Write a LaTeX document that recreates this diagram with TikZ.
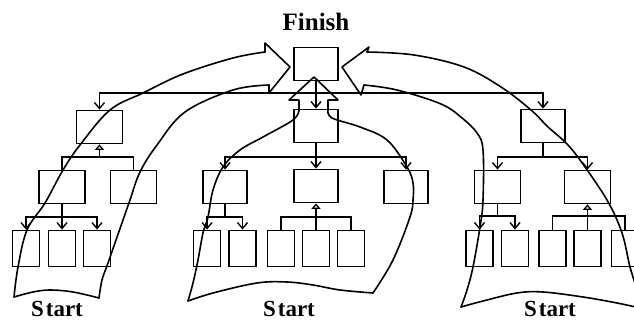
\documentclass[tikz,border=0pt]{standalone}
\usepackage{fontspec}
\setmainfont{Liberation Serif}
\usetikzlibrary{arrows.meta,positioning}
\definecolor{Ink}{HTML}{000000}
\tikzset{
  box/.style={draw=Ink,line width=1.8pt,minimum width=44pt,minimum height=33pt,inner sep=0pt},
  leaf/.style={box,minimum width=27pt,minimum height=36pt},
  link/.style={line width=1.7pt,draw=Ink},
  arrow/.style={link,-{Straight Barb[length=6pt,width=10pt,line width=1.4pt]}},
  genArrow/.style={link,-{Triangle[open,length=5.5pt,width=9pt,line width=1.3pt]}},
  fat/.style={line width=1.6pt,draw=Ink,line join=round,line cap=round},
  wavy/.style={fat},
  title/.style={font=\bfseries\fontsize{25}{25}\selectfont,text=Ink,inner sep=0pt,anchor=base}
}
\newcommand{\startword}{S\kern2pt tart}
\begin{document}
\begin{tikzpicture}[x=1pt,y=-1pt]
\useasboundingbox (0,0) rectangle (634,320);
\clip (0,0) rectangle (634,320);
% finish and first level
\node[title] (finish) at (316,31) {Finish};
\node[box] (F) at (316,64) {};
\node[box,minimum width=46pt] (A) at (99.5,127) {};
\node[box] (M) at (316,126) {};
\node[box] (R) at (543,126) {};
\coordinate (bus) at (316,93);
\draw[arrow] (F) -- (M);
\draw[arrow] (bus) -| (A);
\draw[arrow] (bus) -| (R);
% left tree
\node[box,minimum width=46pt] (B1) at (62,187) {};
\node[box,minimum width=46pt] (B2) at (133.5,187) {};
\coordinate (jA) at (99.5,157);
\draw[link] (B1) |- (jA) -| (B2);
\draw[genArrow] (jA) -- (A);
\node[leaf] (C1) at (26,248.5) {};
\node[leaf] (C2) at (62,248.5) {};
\node[leaf] (C3) at (97,248.5) {};
\coordinate (jB) at (62,217);
\draw[link] (B1) -- (jB);
\draw[arrow] (jB) -| (C1);
\draw[arrow] (jB) -- (C2);
\draw[arrow] (jB) -| (C3);
% middle tree
\node[box] (D1) at (225,187) {};
\node[box] (D2) at (316,186) {};
\node[box] (D3) at (406,187) {};
\coordinate (jM) at (316,157);
\draw[link] (M) -- (jM);
\draw[arrow] (jM) -| (D1);
\draw[arrow] (jM) -- (D2);
\draw[arrow] (jM) -| (D3);
\node[leaf] (E1) at (207,248.5) {};
\node[leaf] (E2) at (242.5,248.5) {};
\node[leaf] (E3) at (281,248.5) {};
\node[leaf] (E4) at (316,248.5) {};
\node[leaf] (E5) at (351,248.5) {};
\coordinate (jD) at (225,217);
\draw[link] (D1) -- (jD);
\draw[arrow] (jD) -| (E1);
\draw[arrow] (jD) -| (E2);
\coordinate (jE) at (316,217);
\draw[link] (E3) |- (jE) -| (E5);
\draw[genArrow] (E4) -- (D2);
% right tree
\node[box,minimum width=46pt] (G1) at (497.5,187) {};
\node[box,minimum width=46pt] (G2) at (587.5,187) {};
\coordinate (jR) at (543,157);
\draw[link] (R) -- (jR);
\draw[arrow] (jR) -| (G1);
\draw[arrow] (jR) -| (G2);
\node[leaf] (H1) at (479.5,248.5) {};
\node[leaf] (H2) at (515,248.5) {};
\node[leaf] (H3) at (552.5,248.5) {};
\node[leaf] (H4) at (587.5,248.5) {};
\node[leaf] (H5) at (625,248.5) {};
\coordinate (jG) at (497.5,216);
\draw[link] (G1) -- (jG);
\draw[arrow] (jG) -| (H1);
\draw[arrow] (jG) -| (H2);
\coordinate (jH) at (587.5,216);
\draw[link] (H3) |- (jH) -| (H5);
\draw[genArrow] (H4) -- (G2);
% left big arrow
\draw[wavy] plot[smooth,tension=.6] coordinates{(14,297)(18,267)(27,230)(45,203)(63,170)(80,145)(110,110)(143,93)(183,74)(233,58)(265,52)};
\draw[fat] (265,52) -- (265,43) -- (290,67) -- (269,93) -- (269,85);
\draw[wavy] plot[smooth,tension=.6] coordinates{(269,85)(233,90)(185,112)(157,145)(140,172)(130,200)(123,220)(108,263)(102,280)(99,298)};
\draw[wavy] plot[smooth,tension=.6] coordinates{(99,298)(73,292)(50,290)(33,292)(14,297)};
% middle big arrow
\draw[fat] (299,110) -- (299,100) -- (289,100) -- (314,77) -- (338,100) -- (328,100) -- (328,110);
\draw[wavy] plot[smooth,tension=.6] coordinates{(299,110)(293,120)(263,137)(240,150)(223,167)(213,190)(208,217)(203,233)(198,260)(193,283)(188,301)};
\draw[wavy] plot[smooth,tension=.6] coordinates{(188,301)(213,293)(257,283)(287,282)(313,285)(340,290)(373,293)};
\draw[wavy] plot[smooth,tension=.6] coordinates{(373,293)(393,260)(410,217)(413,200)(413,183)(407,167)(387,140)(360,127)(332,118)(328,110)};
% right big arrow
\draw[fat] (367,52) -- (369,47) -- (342,67) -- (361,95) -- (364,85);
\draw[wavy] plot[smooth,tension=.6] coordinates{(367,52)(414,55)(464,67)(501,87)(531,110)(548,127)(565,142)(580,160)(607,200)(622,233)(630,267)(638,292)};
\draw[wavy] plot[smooth,tension=.6] coordinates{(364,85)(397,90)(441,104)(462,118)(477,133)(483,150)(483,200)(480,227)(473,267)(467,290)(461,307)};
\draw[wavy] plot[smooth,tension=.6] coordinates{(461,307)(483,301)(517,293)(543,292)(583,297)(617,303)(640,308)};
% labels
\node[title,font=\bfseries\fontsize{23}{23}\selectfont] (startL) at (57,316) {\startword};
\node[title,font=\bfseries\fontsize{23}{23}\selectfont] (startM) at (289,316) {\startword};
\node[title,font=\bfseries\fontsize{23}{23}\selectfont] (startR) at (550,316) {\startword};
\end{tikzpicture}
\end{document}
